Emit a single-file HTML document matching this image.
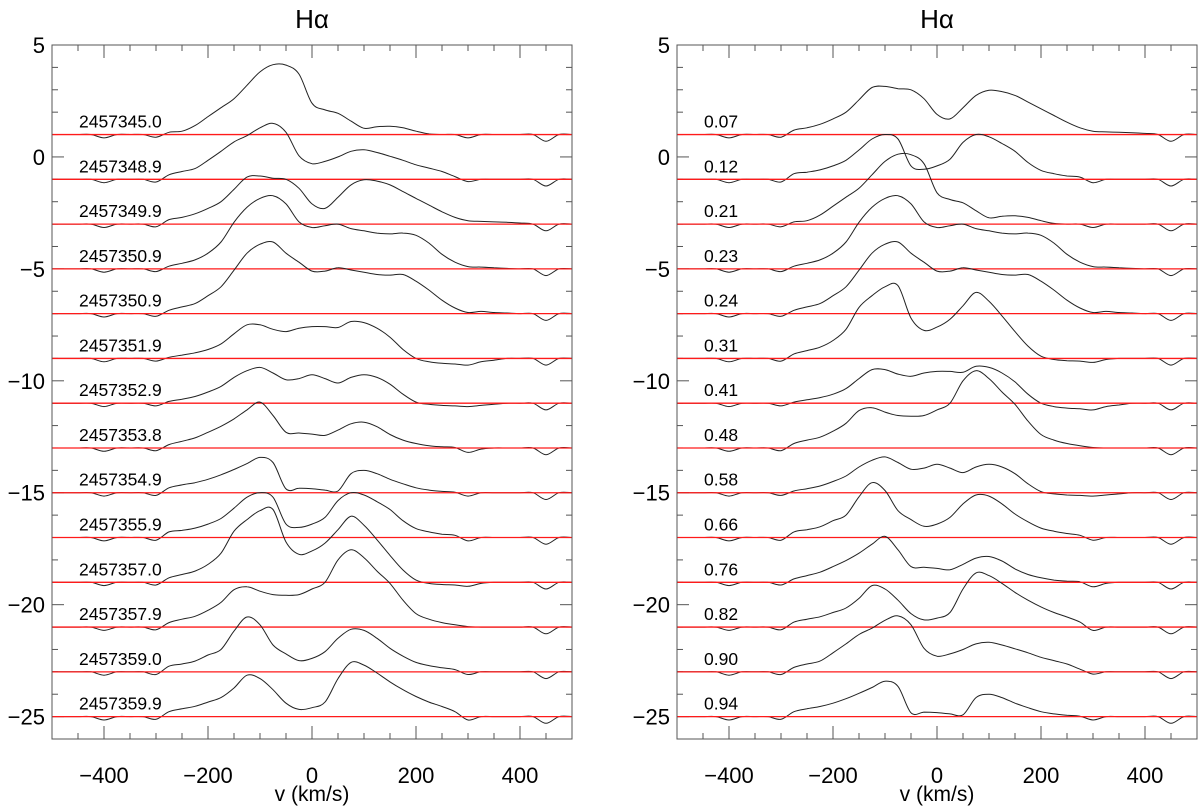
<!DOCTYPE html>
<html><head><meta charset="utf-8"><style>
html,body{margin:0;padding:0;background:#fff;}
svg{display:block;font-family:"Liberation Sans",Arial,sans-serif;}
</style></head><body>
<svg id="chart" width="1200" height="807" viewBox="0 0 1200 807" xmlns="http://www.w3.org/2000/svg">
<g id="left-panel"></g>
<g id="right-panel"></g>
</svg>
<script>
// Velocity grid (km/s)
const velocities = [-500,-475,-450,-425,-400,-375,-350,-325,-300,-275,-250,-225,-200,-175,-150,-125,-100,-75,-50,-25,0,25,50,75,100,125,150,175,200,225,250,275,300,325,350,375,400,425,450,475,500];
// Spectra, flux relative to each baseline (left panel order)
const spec0 = [0,0,0,0,-0.15,0,0,0,-0.12, 0.1,0.15,0.4,0.8,1.2,1.6,2.2,2.8,3.12,3.1,2.7,1.4, 1.1,0.95,0.6,0.28,0.35,0.37,0.3,0.15,0.03,0,0, -0.15,0,0,0,0,0,-0.3,0,0];
const spec1 = [0,0,0,0,-0.15,0,0,0,-0.12, 0.2,0.35,0.48,0.85,1.25,1.67,1.95,2.3,2.5,2.1,1.05,0.7, 0.8,1.0,1.25,1.32,1.2,1.03,0.85,0.65,0.5,0.35,0.12, -0.1,0,0,0,0,0,-0.3,0,0];
const spec2 = [0,0,0,0,-0.15,0,0,0,-0.12, 0.2,0.3,0.46,0.7,1.0,1.55,2.1,2.15,2.05,2.0,1.6,0.9, 0.7,1.2,1.75,1.98,1.92,1.75,1.45,1.15,0.85,0.55,0.3, 0.15,0.12,0.1,0.08,0.05,0,-0.3,0,0];
const spec3 = [0,0,0,0,-0.15,0,0,0,-0.12, 0.12,0.25,0.4,0.7,1.2,2.08,2.75,3.15,3.27,2.9,2.1,1.85, 1.93,2.0,1.8,1.7,1.6,1.56,1.6,1.5,1.15,0.65,0.3, 0.1,0.08,0.05,0.02,0,0,-0.3,0,0];
const spec4 = [0,0,0,0,-0.15,0,0,0,-0.12, 0.15,0.3,0.45,0.8,1.2,1.94,2.7,3.1,3.2,2.7,2.3,1.9, 1.9,2.05,1.95,1.85,1.75,1.72,1.75,1.45,1.05,0.6,0.25, 0.05,0.1,0.05,0.03,0,0,-0.3,0,0];
const spec5 = [0,0,0,0,-0.15,0,0,0,-0.12, 0.05,0.15,0.25,0.4,0.65,1.1,1.5,1.5,1.3,1.2,1.35,1.42, 1.42,1.38,1.65,1.6,1.35,0.95,0.4,0.0,-0.15,-0.22,-0.25, -0.3,-0.15,-0.08,0,0,0,-0.3,0,0];
const spec6 = [0,0,0,0,-0.15,0,0,0,-0.12, 0.08,0.18,0.3,0.5,0.75,1.15,1.45,1.6,1.35,1.05,1.1,1.27, 1.1,0.9,1.15,1.27,1.15,0.85,0.4,0.05,-0.05,-0.1,-0.12, -0.15,-0.1,-0.05,0,0,0,-0.3,0,0];
const spec7 = [0,0,0,0,-0.15,0,0,0,-0.12, 0.15,0.3,0.45,0.7,0.97,1.3,1.7,2.05,1.45,0.7,0.67,0.62, 0.56,0.8,1.08,1.15,0.95,0.6,0.35,0.2,0.1,0.05,0.02, -0.2,-0.05,0,0,0,0,-0.3,0,0];
const spec8 = [0,0,0,0,-0.15,0,0,0,-0.12, 0.22,0.35,0.45,0.6,0.8,1.04,1.3,1.58,1.35,0.17,0.2,0.18, 0.12,0.08,0.85,1.0,0.85,0.6,0.4,0.22,0.12,0.06,0.02, -0.15,0,0,0,0,0,-0.3,0,0];
const spec9 = [0,0,0,0,-0.15,0,0,0,-0.12, 0.25,0.32,0.42,0.6,0.85,1.31,1.8,2.0,1.8,0.6,0.45,0.6, 0.9,1.65,2.0,1.9,1.6,1.25,0.75,0.4,0.25,0.15,0.1, -0.15,0,0,0,0,0,-0.3,0,0];
const spec10 = [0,0,0,0,-0.15,0,0,0,-0.12, 0.2,0.35,0.5,0.8,1.3,2.28,2.8,3.2,3.25,1.8,1.25,1.4, 1.75,2.35,2.95,2.55,1.9,1.2,0.55,0.1,-0.05,-0.1,-0.12, -0.18,-0.05,0,0,0,0,-0.3,0,0];
const spec11 = [0,0,0,0,-0.15,0,0,0,-0.12, 0.2,0.35,0.48,0.75,1.1,1.67,1.8,1.6,1.45,1.42,1.45,1.7, 2.0,3.0,3.45,3.1,2.5,1.95,1.2,0.6,0.35,0.2,0.1, 0.02,0,0,0,0,0,-0.3,0,0];
const spec12 = [0,0,0,0,-0.15,0,0,0,-0.12, 0.25,0.35,0.48,0.75,1.0,1.82,2.45,2.1,1.2,0.8,0.5,0.6, 0.9,1.5,1.9,1.85,1.5,1.05,0.7,0.42,0.28,0.18,0.1, -0.12,0,0,0,0,0,-0.3,0,0];
const spec13 = [0,0,0,0,-0.15,0,0,0,-0.12, 0.22,0.35,0.46,0.65,0.85,1.28,1.85,1.7,1.2,0.6,0.32,0.4, 0.65,1.7,2.42,2.3,1.95,1.55,1.2,0.9,0.65,0.45,0.22, -0.15,0,0,0,0,0,-0.3,0,0];
const spectra = [spec0,spec1,spec2,spec3,spec4,spec5,spec6,spec7,spec8,spec9,spec10,spec11,spec12,spec13];
const dates = ["2457345.0","2457348.9","2457349.9","2457350.9","2457350.9","2457351.9","2457352.9","2457353.8","2457354.9","2457355.9","2457357.0","2457357.9","2457359.0","2457359.9"];
const baselines = [1,-1,-3,-5,-7,-9,-11,-13,-15,-17,-19,-21,-23,-25];
const phaseOrder = [2,9,0,3,4,10,5,11,6,12,7,13,1,8];
const phases = ["0.07","0.12","0.21","0.23","0.24","0.31","0.41","0.48","0.58","0.66","0.76","0.82","0.90","0.94"];
const xTicks = [-400,-200,0,200,400];
const xTickLabels = ["\u2212400","\u2212200","0","200","400"];
const yTicks = [5,0,-5,-10,-15,-20,-25];

const NS = "http://www.w3.org/2000/svg";
const Y0 = 45, Y1 = 739, VMAX = 5, VMIN = -26;
function mk(tag, attrs, parent){const e=document.createElementNS(NS,tag);for(const k in attrs)e.setAttribute(k,attrs[k]);parent.appendChild(e);return e;}
function yScale(v){return Y0 + (VMAX - v) / (VMAX - VMIN) * (Y1 - Y0);}
function ylabel(v){return v<0 ? "\u2212"+Math.abs(v) : String(v);}
function smoothPath(p){
  let d = "M"+p[0][0].toFixed(1)+","+p[0][1].toFixed(1);
  for(let i=0;i<p.length-1;i++){
    const p0=p[Math.max(0,i-1)], p1=p[i], p2=p[i+1], p3=p[Math.min(p.length-1,i+2)];
    const c1x=p1[0]+(p2[0]-p0[0])/6, c1y=p1[1]+(p2[1]-p0[1])/6;
    const c2x=p2[0]-(p3[0]-p1[0])/6, c2y=p2[1]-(p3[1]-p1[1])/6;
    d += " C"+c1x.toFixed(1)+","+c1y.toFixed(1)+" "+c2x.toFixed(1)+","+c2y.toFixed(1)+" "+p2[0].toFixed(1)+","+p2[1].toFixed(1);
  }
  return d;
}

function drawPanel(g, X0, X1, order, labels){
  const xScale = v => X0 + (v + 500) / 1000 * (X1 - X0);
  const cx = (X0 + X1) / 2;
  const t = mk("text",{x:cx,y:28,"text-anchor":"middle","font-size":"26"},g);
  t.textContent = "H\u03b1";
  
  
  for(let v=-450; v<=450; v+=50){
    const major = v % 200 === 0;
    const len = major ? 13 : 6;
    const x = xScale(v);
    const tb = mk("line",{x1:x,x2:x,y1:Y1,y2:Y1-len,stroke:"#555","stroke-width":1},g);
    
    
    const tt = mk("line",{x1:x,x2:x,y1:Y0,y2:Y0+len,stroke:"#555","stroke-width":1},g);
    
    
  }
  xTicks.forEach((v,i)=>{
    const l = mk("text",{x:xScale(v),y:783,"text-anchor":"middle","font-size":"22"},g);
    l.textContent = xTickLabels[i];
    
    
  });
  const xt = mk("text",{x:cx,y:801,"text-anchor":"middle","font-size":"21"},g);
  xt.textContent = "v (km/s)";
  
  
  for(let v=-25; v<=4; v++){
    const major = v % 5 === 0;
    const len = major ? 12 : 6;
    const y = yScale(v);
    const tl = mk("line",{x1:X0,x2:X0+len,y1:y,y2:y,stroke:"#555","stroke-width":1},g);
    
    
    const tr = mk("line",{x1:X1,x2:X1-len,y1:y,y2:y,stroke:"#555","stroke-width":1},g);
    
    
  }
  yTicks.forEach(v=>{
    const l = mk("text",{x:X0-7,y:yScale(v)+8,"text-anchor":"end","font-size":"22"},g);
    l.textContent = ylabel(v);
    
    
  });
  order.forEach((si,row)=>{
    const base = baselines[row];
    const s = spectra[si];
    const pts = velocities.map((v,i)=>[xScale(v), yScale(base + s[i])]);
    const pl = mk("path",{d:smoothPath(pts),fill:"none",stroke:"#222","stroke-width":1,"stroke-linejoin":"round"},g);
    
    
    const bl = mk("line",{x1:X0,x2:X1,y1:yScale(base),y2:yScale(base),stroke:"#ff1a1a","stroke-width":1.3},g);
    
    
    const lb = mk("text",{x:X0+27,y:yScale(base)-7,"font-size":"17.5"},g);
    lb.textContent = labels[row];
    
    
  });
  const fr = mk("rect",{x:X0,y:Y0,width:X1-X0,height:Y1-Y0,fill:"none",stroke:"#555","stroke-width":1},g);
  
  
}
const leftOrder = spectra.map((s,i)=>i);
drawPanel(document.getElementById("left-panel"),52,572,leftOrder,dates);
drawPanel(document.getElementById("right-panel"),677,1197,phaseOrder,phases);
</script>
</body></html>
